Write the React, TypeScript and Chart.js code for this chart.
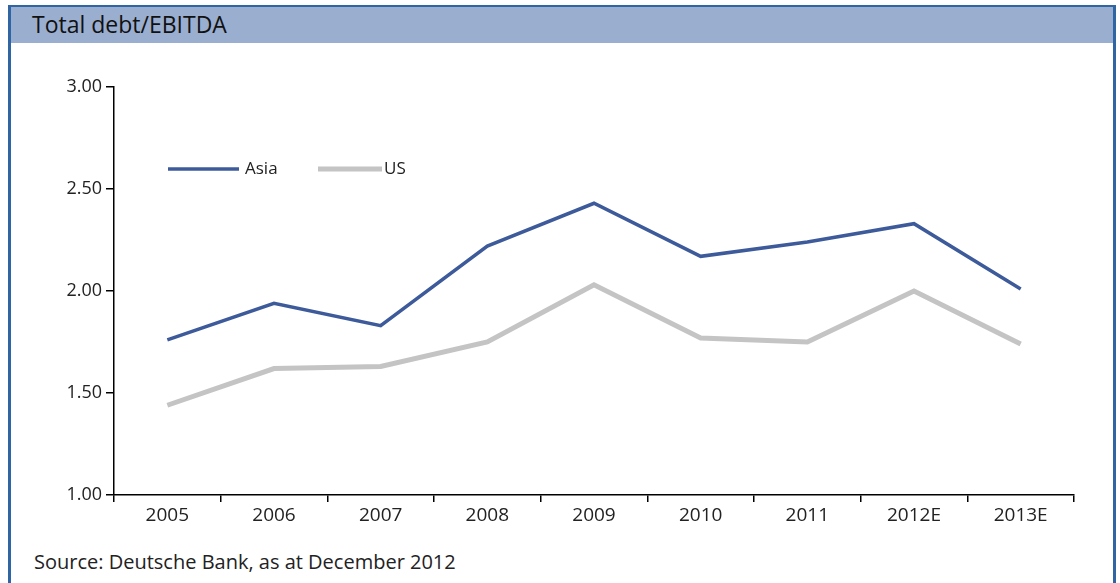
import React, { useEffect, useRef } from "react";
import { Chart, registerables } from "chart.js";

Chart.register(...registerables);

const titleText = "Total debt/EBITDA";
const sourceText = "Source: Deutsche Bank, as at December 2012";
const categories = ["2005", "2006", "2007", "2008", "2009", "2010", "2011", "2012E", "2013E"];
const asiaValues = [1.76, 1.94, 1.83, 2.22, 2.43, 2.17, 2.24, 2.33, 2.01];
const usValues = [1.44, 1.62, 1.63, 1.75, 2.03, 1.77, 1.75, 2.0, 1.74];
const seriesLabels = ["Asia", "US"];
const yMin = 1.0;
const yMax = 3.0;
const yStep = 0.5;

const FONT = "'Open Sans', 'DejaVu Sans', sans-serif";

const legendPlugin = {
  id: "insideLegend",
  afterDraw(chart: any) {
    const { ctx, chartArea } = chart;
    const items = chart.data.datasets;
    const y = chartArea.top + 82;
    const layout = [
      { x0: chartArea.left + 54, len: 71, gap: 6 },
      { x0: chartArea.left + 204, len: 64, gap: 2 },
    ];
    ctx.save();
    items.forEach((ds: any, i: number) => {
      const { x0, len, gap } = layout[i];
      ctx.strokeStyle = ds.borderColor;
      ctx.lineWidth = ds.borderWidth;
      ctx.lineCap = "butt";
      ctx.beginPath();
      ctx.moveTo(x0, y);
      ctx.lineTo(x0 + len, y);
      ctx.stroke();
      ctx.fillStyle = "#222";
      ctx.font = `17px ${FONT}`;
      ctx.textBaseline = "middle";
      ctx.textAlign = "left";
      ctx.fillText(ds.label, x0 + len + gap, y);
    });
    ctx.restore();
  },
};

export default function App() {
  const ref = useRef<HTMLCanvasElement | null>(null);

  useEffect(() => {
    if (!ref.current) return;
    const chart = new Chart(ref.current, {
      type: "line",
      data: {
        labels: categories,
        datasets: [
          {
            label: seriesLabels[0],
            data: asiaValues,
            borderColor: "#3d5b9b",
            borderWidth: 3.5,
            pointRadius: 0,
            tension: 0,
            fill: false,
          },
          {
            label: seriesLabels[1],
            data: usValues,
            borderColor: "#c4c4c4",
            borderWidth: 5,
            pointRadius: 0,
            tension: 0,
            fill: false,
          },
        ],
      },
      options: {
        responsive: false,
        animation: false,
        devicePixelRatio: 1,
        layout: { padding: { top: 37, right: 46, left: 0, bottom: 0 } },
        plugins: {
          legend: { display: false },
          tooltip: { enabled: false },
          title: { display: false },
        },
        scales: {
          x: {
            type: "category",
            offset: true,
            grid: {
              offset: true,
              drawOnChartArea: false,
              drawTicks: true,
              tickLength: 7,
              color: "#000",
              lineWidth: 1.5,
            },
            border: { display: true, color: "#000", width: 1.5 },
            ticks: {
              color: "#222",
              font: { family: FONT, size: 19 },
              padding: 2,
              maxRotation: 0,
              autoSkip: false,
            },
            afterFit(scale: any) {
              scale.height = 45;
            },
          },
          y: {
            min: yMin,
            max: yMax,
            grid: {
              drawOnChartArea: false,
              drawTicks: true,
              tickLength: 8,
              color: "#000",
              lineWidth: 1.5,
            },
            border: { display: true, color: "#000", width: 1.5 },
            ticks: {
              stepSize: yStep,
              color: "#222",
              font: { family: FONT, size: 18 },
              padding: 4,
              callback: (v: any) => Number(v).toFixed(2),
            },
            afterFit(scale: any) {
              scale.width = 114;
            },
          },
        },
      },
      plugins: [legendPlugin],
    });
    return () => chart.destroy();
  }, []);

  return (
    <div
      style={{
        position: "fixed",
        left: 0,
        top: 0,
        width: 1120,
        height: 583,
        background: "#fff",
        overflow: "hidden",
        fontFamily: FONT,
      }}
    >
      <div
        style={{
          position: "absolute",
          left: 8,
          top: 5,
          width: 1102,
          height: 600,
          borderLeft: "3px solid #2f65a2",
          borderTop: "2px solid #2f65a2",
          borderRight: "3px solid #2f65a2",
        }}
      />
      <div
        style={{
          position: "absolute",
          left: 11,
          top: 7,
          width: 1102,
          height: 36,
          background: "#9aaed0",
        }}
      />
      <div
        style={{
          position: "absolute",
          left: 32,
          top: 9,
          fontSize: 23,
          lineHeight: "30px",
          color: "#111",
        }}
      >
        {titleText}
      </div>
      <canvas
        ref={ref}
        width={1120}
        height={490}
        style={{ position: "absolute", left: 0, top: 50, width: 1120, height: 490 }}
      />
      <div
        style={{
          position: "absolute",
          left: 34,
          top: 548,
          fontSize: 20,
          lineHeight: "28px",
          color: "#222",
        }}
      >
        {sourceText}
      </div>
    </div>
  );
}
